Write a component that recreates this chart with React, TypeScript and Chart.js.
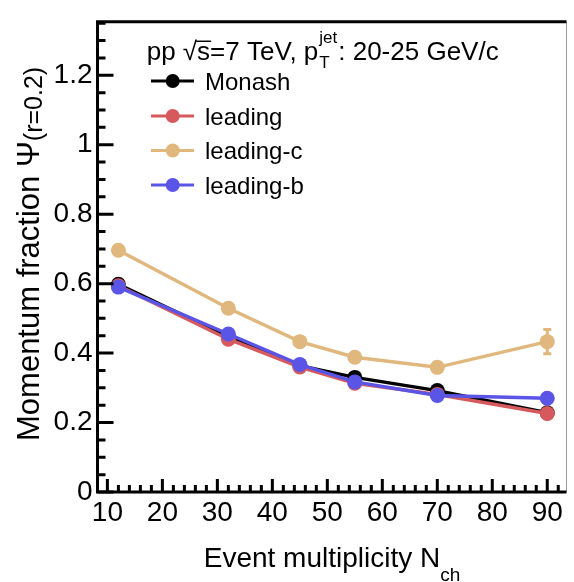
import { useEffect, useRef } from 'react';
import { Chart, registerables } from 'chart.js';

Chart.register(...registerables);

// ---- data ----
const multiplicity = [12, 32, 45, 55, 70, 90];
const monash = [0.598, 0.447, 0.364, 0.33, 0.292, 0.228];
const leading = [0.594, 0.44, 0.36, 0.313, 0.281, 0.226];
const leadingC = [0.696, 0.529, 0.433, 0.388, 0.359, 0.433];
const leadingB = [0.59, 0.455, 0.367, 0.317, 0.278, 0.27];
const leadingCErr = [0.004, 0.004, 0.004, 0.005, 0.006, 0.035];
const seriesNames = ['Monash', 'leading', 'leading-c', 'leading-b'];
const seriesColors = ['#000000', '#d65a5d', '#e0b77c', '#5a55e6'];
const xTickValues = [10, 20, 30, 40, 50, 60, 70, 80, 90];
const yTickValues = [0, 0.2, 0.4, 0.6, 0.8, 1, 1.2];
const xRange = [8.2, 93.5];
const yRange = [0, 1.354];

const FONT = "'Liberation Sans', Arial, Helvetica, sans-serif";

type Part = { t: string; size: number; dy: number; dx?: number; over?: boolean };

function drawParts(ctx: CanvasRenderingContext2D, parts: Part[], x: number, baseline: number) {
  let cx = x;
  for (const p of parts) {
    ctx.font = `${p.size}px ${FONT}`;
    const w = ctx.measureText(p.t).width;
    ctx.fillText(p.t, cx + (p.dx || 0), baseline + p.dy);
    if (p.over) {
      ctx.save();
      ctx.lineWidth = 1.5;
      ctx.beginPath();
      ctx.moveTo(cx - 1, baseline - p.size * 0.72);
      ctx.lineTo(cx + w + 1, baseline - p.size * 0.72);
      ctx.stroke();
      ctx.restore();
    }
    cx += w + (p.dx || 0);
  }
  return cx;
}

function partsWidth(ctx: CanvasRenderingContext2D, parts: Part[]) {
  let w = 0;
  for (const p of parts) {
    ctx.font = `${p.size}px ${FONT}`;
    w += ctx.measureText(p.t).width;
  }
  return w;
}

const rootStyle = {
  id: 'rootStyle',
  beforeDatasetsDraw(chart: any) {
    const ctx: CanvasRenderingContext2D = chart.ctx;
    const xs = chart.scales.x;
    const ys = chart.scales.y;
    ctx.save();
    ctx.strokeStyle = seriesColors[2];
    ctx.lineWidth = 3;
    multiplicity.forEach((m, j) => {
      const px = xs.getPixelForValue(m);
      const top = ys.getPixelForValue(leadingC[j] + leadingCErr[j]);
      const bot = ys.getPixelForValue(leadingC[j] - leadingCErr[j]);
      ctx.beginPath();
      ctx.moveTo(px, top);
      ctx.lineTo(px, bot);
      ctx.moveTo(px - 4, top);
      ctx.lineTo(px + 4, top);
      ctx.moveTo(px - 4, bot);
      ctx.lineTo(px + 4, bot);
      ctx.stroke();
    });
    ctx.restore();
  },
  afterDraw(chart: any) {
    const ctx: CanvasRenderingContext2D = chart.ctx;
    const a = chart.chartArea;
    const xs = chart.scales.x;
    const ys = chart.scales.y;
    ctx.save();
    ctx.fillStyle = '#000';
    ctx.strokeStyle = '#000';

    // ticks (inside)
    ctx.lineWidth = 3;
    ctx.beginPath();
    for (let v = 10; v <= xRange[1]; v += 2) {
      const px = xs.getPixelForValue(v);
      const len = v % 10 === 0 ? 13 : 7;
      ctx.moveTo(px, a.bottom);
      ctx.lineTo(px, a.bottom - len);
    }
    for (let k = 0; k * 0.05 <= yRange[1]; k++) {
      const py = ys.getPixelForValue(k * 0.05);
      const len = k % 4 === 0 ? 16 : 8;
      ctx.moveTo(a.left, py);
      ctx.lineTo(a.left + len, py);
    }
    ctx.stroke();

    // frame
    ctx.lineWidth = 1;
    ctx.strokeStyle = '#9a9a9a';
    ctx.beginPath();
    ctx.moveTo(a.right, a.top);
    ctx.lineTo(a.right, a.bottom);
    ctx.stroke();
    ctx.strokeStyle = '#000';
    ctx.lineWidth = 3;
    ctx.beginPath();
    ctx.moveTo(a.right, a.top);
    ctx.lineTo(a.left, a.top);
    ctx.lineTo(a.left, a.bottom);
    ctx.lineTo(a.right, a.bottom);
    ctx.stroke();

    // legend header
    ctx.textAlign = 'left';
    ctx.textBaseline = 'alphabetic';
    const hx = 146.7;
    const hb = 60;
    let cx = drawParts(ctx, [{ t: 'pp ', size: 26, dy: 0 }, { t: '\u221A', size: 26, dy: 0 }], hx, hb);
    cx = drawParts(ctx, [{ t: 's', size: 26, dy: 0, over: true }], cx, hb);
    cx = drawParts(ctx, [{ t: '=7 TeV, p', size: 26, dy: 0 }], cx, hb);
    ctx.font = `17px ${FONT}`;
    const wJet = ctx.measureText('jet').width;
    ctx.fillText('jet', cx + 1, hb - 17);
    ctx.fillText('T', cx + 1, hb + 8);
    cx += wJet + 2;
    drawParts(ctx, [{ t: ': 20-25 GeV/c', size: 26, dy: 0 }], cx, hb);

    // legend entries
    const rowY = [81, 116, 150.5, 185];
    seriesNames.forEach((name, i) => {
      const cy = rowY[i];
      ctx.strokeStyle = seriesColors[i];
      ctx.fillStyle = seriesColors[i];
      ctx.lineWidth = 3;
      ctx.beginPath();
      ctx.moveTo(151, cy);
      ctx.lineTo(194, cy);
      ctx.stroke();
      ctx.beginPath();
      ctx.arc(172.7, cy, 7, 0, Math.PI * 2);
      ctx.fill();
      ctx.fillStyle = '#000';
      ctx.font = `24px ${FONT}`;
      ctx.fillText(name, 205, cy + 8.6);
    });

    // x title
    ctx.fillStyle = '#000';
    const xParts: Part[] = [
      { t: 'Event multiplicity N', size: 28, dy: 0 },
      { t: 'ch', size: 19, dy: 14 },
    ];
    const xw = partsWidth(ctx, xParts);
    drawParts(ctx, xParts, (a.left + a.right) / 2 - xw / 2, 566.5);

    // y title
    const yParts: Part[] = [
      { t: 'Momentum fraction \u03A8', size: 31, dy: 0 },
      { t: '(r=0.2)', size: 25, dy: 3 },
    ];
    ctx.save();
    ctx.translate(39, 441);
    ctx.rotate(-Math.PI / 2);
    drawParts(ctx, yParts, 0, 0);
    ctx.restore();

    ctx.restore();
  },
};

export default function App() {
  const ref = useRef<HTMLCanvasElement | null>(null);
  useEffect(() => {
    document.body.style.margin = '0';
    const canvas = ref.current;
    if (!canvas) return;
    const series = [monash, leading, leadingC, leadingB];
    const drawOrder = [3, 2, 1, 0];
    const chart = new Chart(canvas, {
      type: 'line',
      data: {
        datasets: series.map((vals, i) => ({
          label: seriesNames[i],
          data: vals.map((v, j) => ({ x: multiplicity[j], y: v })),
          borderColor: seriesColors[i],
          backgroundColor: seriesColors[i],
          pointBackgroundColor: seriesColors[i],
          pointBorderColor: seriesColors[i],
          pointBorderWidth: 0,
          pointRadius: 7.5,
          borderWidth: 3.5,
          tension: 0,
          fill: false,
          order: drawOrder[i],
        })),
      },
      options: {
        responsive: false,
        animation: false,
        devicePixelRatio: 1,
        layout: { padding: { top: 12, right: 1.5, left: 0, bottom: 0 } },
        plugins: { legend: { display: false }, tooltip: { enabled: false } },
        scales: {
          x: {
            type: 'linear',
            min: xRange[0],
            max: xRange[1],
            grid: { display: false, drawTicks: false },
            border: { display: false },
            afterBuildTicks: (s: any) => {
              s.ticks = xTickValues.map((v) => ({ value: v }));
            },
            afterFit: (s: any) => {
              s.height = 90;
            },
            ticks: {
              autoSkip: false,
              maxRotation: 0,
              padding: 4,
              color: '#000',
              font: { family: FONT, size: 28 },
              callback: (v: any) => String(v),
            },
          },
          y: {
            type: 'linear',
            min: yRange[0],
            max: yRange[1],
            grid: { display: false, drawTicks: false },
            border: { display: false },
            afterBuildTicks: (s: any) => {
              s.ticks = yTickValues.map((v) => ({ value: v }));
            },
            afterFit: (s: any) => {
              s.width = 97.5;
            },
            ticks: {
              autoSkip: false,
              padding: 5,
              color: '#000',
              font: { family: FONT, size: 28 },
              callback: (v: any) => String(v),
            },
          },
        },
      },
      plugins: [rootStyle],
    });
    return () => chart.destroy();
  }, []);
  return <canvas ref={ref} width={574} height={582} style={{ display: 'block' }} />;
}
